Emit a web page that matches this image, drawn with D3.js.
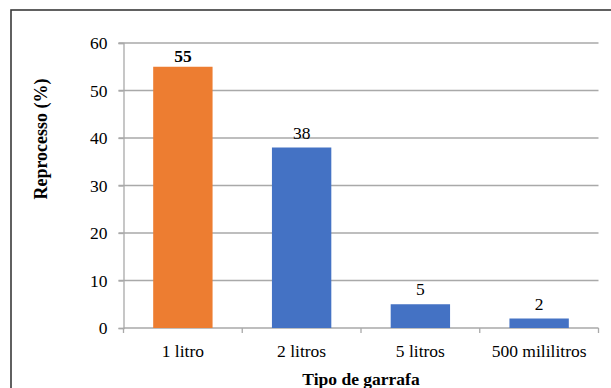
<!DOCTYPE html>
<html>
<head>
<meta charset="utf-8">
<script src="https://cdn.jsdelivr.net/npm/d3@7"></script>
<style>
  html, body { margin: 0; padding: 0; background: #fff; }
  svg { display: block; }
</style>
</head>
<body>
<svg id="chart" width="611" height="388"></svg>
<script>
// Bottle types and reprocessing share (%)
const categories = ["1 litro", "2 litros", "5 litros", "500 mililitros"];
const values = [55, 38, 5, 2];
const highlighted = ["1 litro"];
const yTicks = [0, 10, 20, 30, 40, 50, 60];
const yTitle = "Reprocesso (%)";
const xTitle = "Tipo de garrafa";

const FONT = "'Liberation Serif', 'Times New Roman', Tinos, 'DejaVu Serif', serif";
const FS = "17.5px";

const svg = d3.select("#chart");

// outer frame (right and bottom edges run off the canvas)
svg.append("rect")
  .attr("x", 11).attr("y", 10)
  .attr("width", 640).attr("height", 420)
  .attr("fill", "#fff")
  .attr("stroke", "#3a3a3a")
  .attr("stroke-width", 1.6);

const plotLeft = 123.5, plotRight = 598.5, plotTop = 43, plotBottom = 328;

const x = d3.scaleBand()
  .domain(categories)
  .range([plotLeft, plotRight])
  .paddingInner(0.5)
  .paddingOuter(0.25);

const y = d3.scaleLinear()
  .domain([0, 60])
  .range([plotBottom, plotTop]);

const gridColor = "#a9a9a9";

// horizontal gridlines
svg.append("g")
  .selectAll("line")
  .data(yTicks.filter(d => d > 0))
  .join("line")
  .attr("x1", plotLeft - 5).attr("x2", plotRight)
  .attr("y1", d => y(d)).attr("y2", d => y(d))
  .attr("stroke", gridColor)
  .attr("stroke-width", 1.3);

// y axis
const yAxis = svg.append("g")
  .attr("transform", `translate(${plotLeft},0)`)
  .call(d3.axisLeft(y).tickValues(yTicks).tickSize(5).tickPadding(11).tickFormat(d3.format("d")));
yAxis.attr("font-family", null).attr("font-size", null);
yAxis.select(".domain").attr("stroke", gridColor).attr("stroke-width", 1.3);
yAxis.selectAll(".tick line").attr("stroke", gridColor).attr("stroke-width", 1.3);
yAxis.selectAll(".tick text")
  .style("font-family", FONT)
  .style("font-size", FS)
  .attr("fill", "#000");

// x axis with category boundary ticks
const xAxisG = svg.append("g").attr("transform", `translate(0,${plotBottom})`);
xAxisG.append("line")
  .attr("x1", plotLeft).attr("x2", plotRight)
  .attr("stroke", gridColor).attr("stroke-width", 1.3);
const boundaries = d3.range(categories.length + 1).map(i => plotLeft + i * x.step());
xAxisG.selectAll("line.sep")
  .data(boundaries)
  .join("line")
  .attr("class", "sep")
  .attr("x1", d => d).attr("x2", d => d)
  .attr("y1", 0).attr("y2", 5)
  .attr("stroke", gridColor).attr("stroke-width", 1.3);

xAxisG.selectAll("text.cat")
  .data(categories)
  .join("text")
  .attr("class", "cat")
  .attr("x", d => x(d) + x.bandwidth() / 2)
  .attr("y", 28.5)
  .attr("text-anchor", "middle")
  .style("font-family", FONT)
  .style("font-size", FS)
  .attr("fill", "#000")
  .text(d => d);

// bars
const data = categories.map((c, i) => ({ c, v: values[i], hi: highlighted.includes(c) }));
svg.append("g")
  .selectAll("rect")
  .data(data)
  .join("rect")
  .attr("x", d => x(d.c))
  .attr("y", d => y(d.v))
  .attr("width", x.bandwidth())
  .attr("height", d => y(0) - y(d.v))
  .attr("fill", d => d.hi ? "#ED7D31" : "#4472C4");

// value labels
svg.append("g")
  .selectAll("text")
  .data(data)
  .join("text")
  .attr("x", d => x(d.c) + x.bandwidth() / 2)
  .attr("y", d => y(d.v) - (d.hi ? 5 : 9))
  .attr("text-anchor", "middle")
  .style("font-family", FONT)
  .style("font-size", FS)
  .style("font-weight", d => d.hi ? "bold" : "normal")
  .attr("fill", "#000")
  .text(d => d.v);

// axis titles
svg.append("text")
  .attr("transform", `translate(47,139) rotate(-90)`)
  .attr("text-anchor", "middle")
  .style("font-family", FONT)
  .style("font-size", "18px")
  .style("font-weight", "bold")
  .attr("fill", "#000")
  .text(yTitle);

svg.append("text")
  .attr("x", 361)
  .attr("y", 385)
  .attr("text-anchor", "middle")
  .style("font-family", FONT)
  .style("font-size", FS)
  .style("font-weight", "bold")
  .attr("fill", "#000")
  .text(xTitle);
</script>
</body>
</html>
